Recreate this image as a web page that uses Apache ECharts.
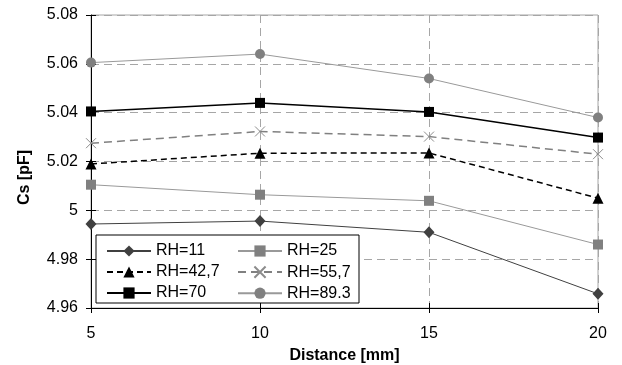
<!DOCTYPE html>
<html>
<head>
<meta charset="utf-8">
<script src="https://cdn.jsdelivr.net/npm/echarts@6/dist/echarts.min.js"></script>
<style>
  html, body { margin: 0; padding: 0; background: #fff; }
  #chart { width: 622px; height: 365px; }
</style>
</head>
<body>
<div id="chart"></div>
<script>
// distance [mm]
const distances = [5, 10, 15, 20];

// Cs [pF] per relative humidity
const rh11 = [4.9944, 4.9956, 4.991, 4.9658];
const rh25 = [5.0105, 5.0064, 5.0039, 4.986];
const rh427 = [5.019, 5.0234, 5.0235, 5.005];
const rh557 = [5.0275, 5.0323, 5.0302, 5.023];
const rh70 = [5.0405, 5.044, 5.0403, 5.0298];
const rh893 = [5.0605, 5.064, 5.054, 5.038];

const seriesNames = ['RH=11', 'RH=25', 'RH=42,7', 'RH=55,7', 'RH=70', 'RH=89.3'];

const font = 'Liberation Sans, Arial, sans-serif';
const pairs = (ys) => distances.map((x, i) => [x, ys[i]]);
const crossPath = 'path://M0,0L10,10M10,0L0,10';

const chart = echarts.init(document.getElementById('chart'));

function line(name, data, opts) {
  return {
    name,
    type: 'line',
    data: pairs(data),
    symbol: opts.symbol,
    symbolSize: opts.size || 10,
    itemStyle: opts.item,
    lineStyle: opts.line,
    z: 3
  };
}

chart.setOption({
  animation: false,
  textStyle: { fontFamily: font },
  grid: {
    left: 91, right: 24, top: 15, bottom: 57,
    outerBoundsMode: 'none',
    show: true, borderColor: '#a6a6a6', borderWidth: 1
  },
  xAxis: [{
    type: 'value',
    min: 5, max: 20, interval: 5,
    name: 'Distance [mm]',
    nameLocation: 'middle',
    nameGap: 40,
    nameTextStyle: { fontSize: 16, fontWeight: 'bold', color: '#000', fontFamily: font },
    axisLine: { lineStyle: { color: '#000', width: 1 } },
    axisTick: { length: 5, lineStyle: { color: '#000' } },
    axisLabel: { fontSize: 16, color: '#000', margin: 18, fontFamily: font },
    splitLine: { lineStyle: { color: '#a6a6a6', type: [8, 5] } }
  }, {
    type: 'value', position: 'bottom',
    min: 5, max: 20, interval: 5,
    axisLine: { show: false },
    axisTick: { inside: true, length: 5, lineStyle: { color: '#000' } },
    axisLabel: { show: false },
    splitLine: { show: false }
  }],
  yAxis: [{
    type: 'value',
    min: 4.96, max: 5.08, interval: 0.02,
    name: 'Cs [pF]',
    nameLocation: 'middle',
    nameGap: 58,
    nameTextStyle: { fontSize: 16, fontWeight: 'bold', color: '#000', fontFamily: font, padding: [0, 32, 0, 0] },
    axisLine: { show: true, lineStyle: { color: '#000', width: 1 } },
    axisTick: { show: true, length: 5, lineStyle: { color: '#000' } },
    axisLabel: { fontSize: 16, color: '#000', margin: 13, fontFamily: font },
    splitLine: { lineStyle: { color: '#a6a6a6', type: [8, 5] } }
  }, {
    type: 'value', position: 'left',
    min: 4.96, max: 5.08, interval: 0.02,
    axisLine: { show: false },
    axisTick: { show: true, inside: true, length: 5, lineStyle: { color: '#000' } },
    axisLabel: { show: false },
    splitLine: { show: false }
  }],
  legend: [{
    data: [seriesNames[0], seriesNames[2], seriesNames[4]],
    orient: 'vertical',
    left: 106, top: 243,
    padding: 0,
    itemWidth: 44, itemHeight: 14, itemGap: 5,
    textStyle: { fontSize: 16, color: '#000', fontFamily: font },
    z: 5
  }, {
    data: [seriesNames[1], seriesNames[3], seriesNames[5]],
    orient: 'vertical',
    left: 237, top: 243,
    padding: 0,
    itemWidth: 44, itemHeight: 14, itemGap: 5,
    textStyle: { fontSize: 16, color: '#000', fontFamily: font },
    z: 5
  }],
  graphic: [{
    type: 'rect',
    shape: { x: 96, y: 235, width: 263, height: 68 },
    style: { fill: '#fff', stroke: '#000', lineWidth: 1 },
    z: 4
  }],
  series: [
    line(seriesNames[0], rh11, {
      symbol: 'diamond', size: [11, 12],
      item: { color: '#404040' },
      line: { color: '#404040', width: 1 }
    }),
    line(seriesNames[1], rh25, {
      symbol: 'rect', size: 10,
      item: { color: '#808080' },
      line: { color: '#999999', width: 1 }
    }),
    line(seriesNames[2], rh427, {
      symbol: 'triangle', size: 11,
      item: { color: '#000' },
      line: { color: '#000', width: 1.5, type: [6, 4] }
    }),
    line(seriesNames[3], rh557, {
      symbol: crossPath, size: 10,
      item: { color: 'none', borderColor: '#8c8c8c', borderWidth: 1 },
      line: { color: '#808080', width: 1.5, type: [8, 5] }
    }),
    line(seriesNames[4], rh70, {
      symbol: 'rect', size: 10,
      item: { color: '#000' },
      line: { color: '#000', width: 1.5 }
    }),
    line(seriesNames[5], rh893, {
      symbol: 'circle', size: 10,
      item: { color: '#808080' },
      line: { color: '#999999', width: 1 }
    })
  ]
});

window.addEventListener('resize', () => chart.resize());
</script>
</body>
</html>
